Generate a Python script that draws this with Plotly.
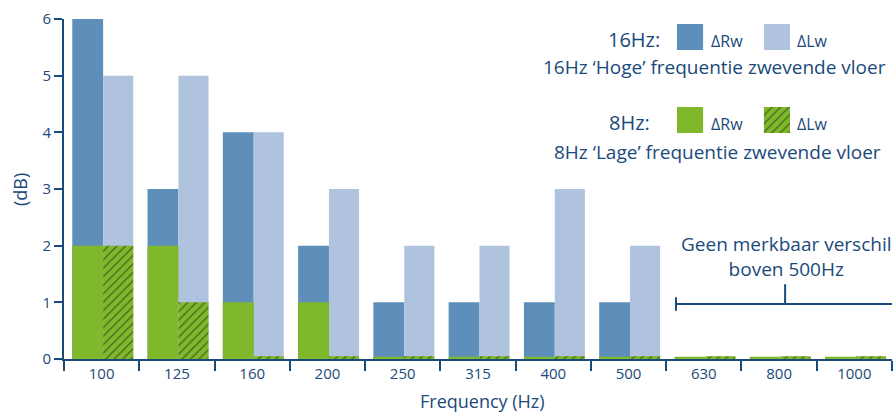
import plotly.graph_objects as go

categories = ["100", "125", "160", "200", "250", "315", "400", "500", "630", "800", "1000"]
rw_16hz = [6, 3, 4, 2, 1, 1, 1, 1, 0, 0, 0]
lw_16hz = [5, 5, 4, 3, 2, 2, 3, 2, 0, 0, 0]
rw_8hz = [2, 2, 1, 1, 0.04, 0.04, 0.04, 0.04, 0.04, 0.04, 0.04]
lw_8hz = [2, 1, 0.05, 0.05, 0.05, 0.05, 0.05, 0.05, 0.05, 0.05, 0.05]
y_ticks = [0, 1, 2, 3, 4, 5, 6]

DARK = "#5E8FBA"
LIGHT = "#AFC3DE"
GREEN = "#7FB82A"
NAVY = "#1A4A7A"
FONT = "Open Sans"
HATCH = dict(shape="/", fgcolor="#111111", bgcolor=GREEN, size=6, solidity=0.22)

W, H = 893, 412
# plot area in pixels: x 64..892, y 19..359
ML, MT = 64, 19
MR = W - 892
MB = H - 359
PW = W - ML - MR
PH = H - MT - MB


def px(x):
    return (x - ML) / PW


def py(y):
    return (H - MB - y) / PH


fig = go.Figure()
fig.add_trace(go.Bar(x=categories, y=rw_16hz, marker_color=DARK, offset=-0.39, width=0.41,
                     marker_line_width=0, showlegend=False, hoverinfo="skip"))
fig.add_trace(go.Bar(x=categories, y=lw_16hz, marker_color=LIGHT, offset=0.02, width=0.40,
                     marker_line_width=0, showlegend=False, hoverinfo="skip"))
fig.add_trace(go.Bar(x=categories, y=rw_8hz, marker_color=GREEN, offset=-0.39, width=0.41,
                     marker_line_width=0, showlegend=False, hoverinfo="skip"))
fig.add_trace(go.Bar(x=categories, y=lw_8hz, marker=dict(color=GREEN, line_width=0, pattern=HATCH),
                     offset=0.02, width=0.40, showlegend=False, hoverinfo="skip"))

# legend swatches in a small helper axis
fig.add_trace(go.Bar(x=[0, 1], y=[26, 26], base=[83, 83], marker_color=[DARK, LIGHT],
                     width=0.3, marker_line_width=0, xaxis="x2", yaxis="y2",
                     showlegend=False, hoverinfo="skip"))
fig.add_trace(go.Bar(x=[0], y=[26], base=[0], marker_color=GREEN, width=0.3, marker_line_width=0,
                     xaxis="x2", yaxis="y2", showlegend=False, hoverinfo="skip"))
fig.add_trace(go.Bar(x=[1], y=[26], base=[0], width=0.3,
                     marker=dict(color=GREEN, line_width=0, pattern=HATCH),
                     xaxis="x2", yaxis="y2", showlegend=False, hoverinfo="skip"))

annotations = []


def txt(text, x, y, size, xanchor="left", angle=0):
    annotations.append(dict(text=text, x=px(x), y=py(y), xref="paper", yref="paper",
                            xanchor=xanchor, yanchor="middle", showarrow=False, textangle=angle,
                            font=dict(family=FONT, size=size, color=NAVY)))


txt("16Hz:", 662, 39, 20, "right")
txt("ΔRw", 709, 41, 16)
txt("ΔLw", 795, 41, 16)
txt("16Hz ‘Hoge’ frequentie zwevende vloer", 714, 67, 19, "center")
txt("8Hz:", 652, 122, 20, "right")
txt("ΔRw", 709, 124, 16)
txt("ΔLw", 795, 124, 16)
txt("8Hz ‘Lage’ frequentie zwevende vloer", 717, 152, 19, "center")
txt("Geen merkbaar verschil<br>boven 500Hz", 786, 256, 19, "center")
txt("Frequency (Hz)", 482, 401, 18, "center")
txt("(dB)", 20, 190, 18, "center", -90)

shapes = [
    dict(type="line", xref="x", yref="y", x0=7.63, x1=10.5, y0=0.97, y1=0.97, line=dict(color=NAVY, width=2)),
    dict(type="line", xref="x", yref="y", x0=7.63, x1=7.63, y0=0.85, y1=1.09, line=dict(color=NAVY, width=2)),
    dict(type="line", xref="x", yref="y", x0=9.08, x1=9.08, y0=0.97, y1=1.32, line=dict(color=NAVY, width=2)),
]

tickfont = dict(size=15, color=NAVY, family=FONT)

fig.update_layout(
    width=W, height=H,
    margin=dict(l=ML, r=MR, t=MT, b=MB, pad=0, autoexpand=False),
    paper_bgcolor="white", plot_bgcolor="white",
    barmode="overlay",
    font=dict(family=FONT, color=NAVY, size=14),
    annotations=annotations,
    shapes=shapes,
    xaxis=dict(type="category", categoryorder="array", categoryarray=categories,
               range=[-0.5, 10.5], tickson="boundaries", ticks="outside", ticklen=10,
               tickwidth=1.5, tickcolor=NAVY, showline=True, linecolor=NAVY, linewidth=2,
               showgrid=False, zeroline=False, fixedrange=True, automargin=False,
               tickfont=tickfont),
    yaxis=dict(range=[0, 6], tickvals=y_ticks, ticks="outside", ticklen=8, tickwidth=1.5,
               tickcolor=NAVY, showline=True, linecolor=NAVY, linewidth=2, showgrid=False,
               zeroline=False, fixedrange=True, automargin=False,
               tickfont=tickfont),
    xaxis2=dict(domain=[px(677), px(790)], range=[-0.15, 1.15], visible=False, anchor="y2",
                fixedrange=True),
    yaxis2=dict(domain=[py(133), py(24)], range=[0, 109], visible=False, anchor="x2",
                fixedrange=True),
)

fig.write_html("out.html", config={"displayModeBar": False},
               post_script="document.body.style.margin='0';document.body.style.overflow='hidden';")
